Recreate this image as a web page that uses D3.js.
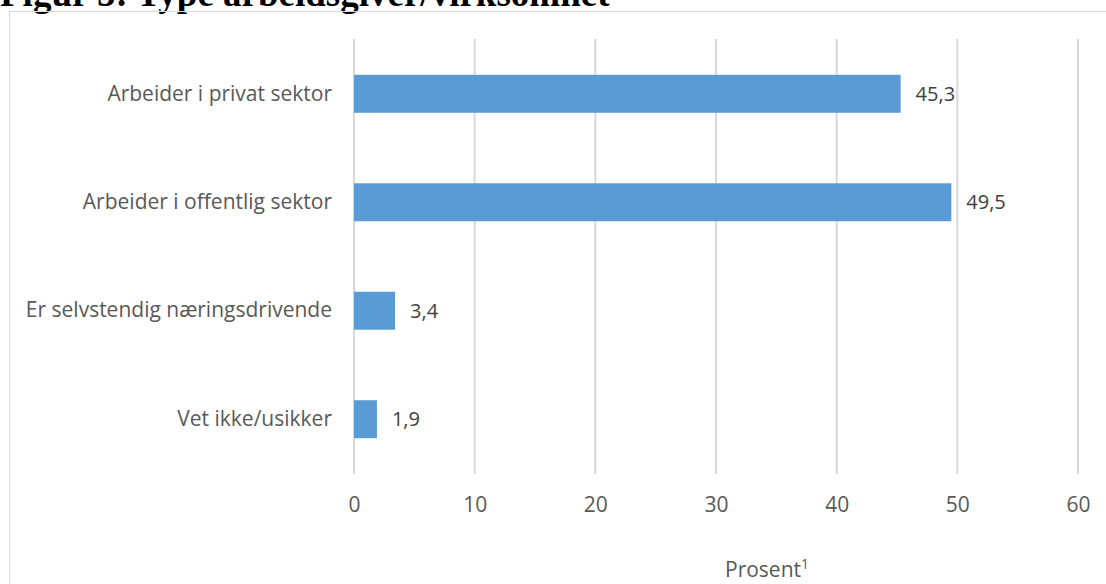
<!DOCTYPE html>
<html>
<head>
<meta charset="utf-8">
<script src="https://cdn.jsdelivr.net/npm/d3@7"></script>
<style>
  body { margin: 0; background: #fff; }
  text { font-family: "Open Sans", sans-serif; }
</style>
</head>
<body>
<div id="chart"></div>
<script>
var categories = ["Arbeider i privat sektor", "Arbeider i offentlig sektor", "Er selvstendig næringsdrivende", "Vet ikke/usikker"];
var values = [45.3, 49.5, 3.4, 1.9];
var ticks = [0, 10, 20, 30, 40, 50, 60];

var width = 1106, height = 584;
var margin = {top: 39, left: 354, right: 28, bottom: 110};
var labelFont = "'Open Sans', sans-serif";

var svg = d3.select("#chart")
            .append("svg")
            .attr("width", width)
            .attr("height", height);

// title, cut off at the top like the source
svg.append("text")
   .attr("x", 0)
   .attr("y", 6)
   .style("font-family", "'Liberation Serif', serif")
   .attr("font-weight", "bold")
   .attr("font-size", 37)
   .attr("fill", "#000")
   .text("Figur 5: Type arbeidsgiver/virksomhet");

// chart frame
svg.append("rect")
   .attr("x", 9.5)
   .attr("y", 11.5)
   .attr("width", width + 20)
   .attr("height", height + 20)
   .attr("fill", "none")
   .attr("stroke", "#d9d9d9")
   .attr("stroke-width", 1);

var x = d3.scaleLinear()
          .domain([0, 60])
          .range([margin.left, width - margin.right]);

var y = d3.scaleBand()
          .domain(categories)
          .range([margin.top, height - margin.bottom])
          .paddingInner(0.65)
          .paddingOuter(0.33);

// gridlines
svg.selectAll("line.grid")
   .data(ticks)
   .enter()
   .append("line")
       .attr("class", "grid")
       .attr("x1", function(d) { return x(d); })
       .attr("x2", function(d) { return x(d); })
       .attr("y1", margin.top)
       .attr("y2", height - margin.bottom)
       .attr("stroke", "#d9d9d9")
       .attr("stroke-width", 2);

// x axis tick labels
var xAxis = svg.append("g")
   .attr("transform", "translate(0," + (height - margin.bottom) + ")")
   .call(d3.axisBottom(x).tickValues(ticks).tickSize(0).tickPadding(23));
xAxis.select(".domain").remove();
xAxis.selectAll("text")
     .attr("font-size", 21)
     .attr("fill", "#595959")
     .style("font-family", labelFont);

// category labels
var yAxis = svg.append("g")
   .attr("transform", "translate(" + margin.left + ",0)")
   .call(d3.axisLeft(y).tickSize(0).tickPadding(22));
yAxis.select(".domain").remove();
yAxis.selectAll("text")
     .attr("font-size", 21)
     .attr("fill", "#595959")
     .style("font-family", labelFont);

// bars
svg.selectAll("rect.bar")
   .data(values)
   .enter()
   .append("rect")
       .attr("class", "bar")
       .attr("x", x(0))
       .attr("y", function(d, i) { return y(categories[i]); })
       .attr("width", function(d) { return x(d) - x(0); })
       .attr("height", y.bandwidth())
       .attr("fill", "#5b9bd5");

// value labels
svg.selectAll("text.value")
   .data(values)
   .enter()
   .append("text")
       .attr("class", "value")
       .attr("x", function(d) { return x(d) + 15; })
       .attr("y", function(d, i) { return y(categories[i]) + y.bandwidth() / 2; })
       .attr("dy", "0.35em")
       .attr("font-size", 20)
       .attr("fill", "#404040")
       .text(function(d) { return d.toFixed(1).replace(".", ","); });

// axis title
var t = svg.append("text")
   .attr("x", 725)
   .attr("y", 577)
   .attr("font-size", 21)
   .attr("fill", "#595959")
   .text("Prosent");
t.append("tspan")
 .attr("dy", -8)
 .attr("font-size", 14)
 .text("1");
</script>
</body>
</html>
